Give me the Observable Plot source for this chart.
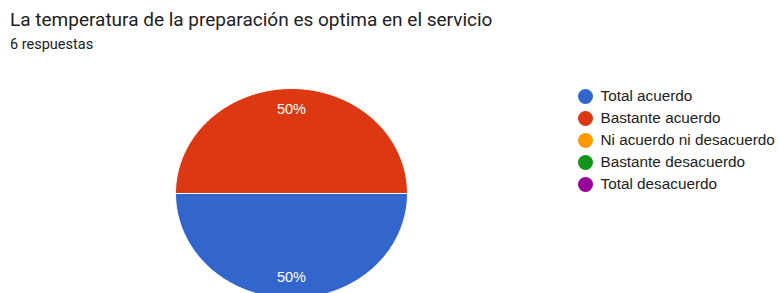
<!DOCTYPE html>
<html><head><meta charset="utf-8">
<script src="https://cdn.jsdelivr.net/npm/d3@7"></script>
<script src="https://cdn.jsdelivr.net/npm/@observablehq/plot@0.6"></script>
<style>
body{margin:0;width:779px;height:293px;overflow:hidden;background:#fff;position:relative;font-family:Roboto,"Liberation Sans",sans-serif;}
#title{position:absolute;left:10px;top:9px;font-size:19px;line-height:22px;color:#202124;white-space:nowrap;}
#sub{position:absolute;left:10px;top:36px;font-size:14.5px;line-height:17px;color:#202124;white-space:nowrap;}
#chart{position:absolute;left:0;top:0;}
#legend{position:absolute;left:575px;top:85px;}
</style></head>
<body>
<div id="chart"></div>
<div id="title">La temperatura de la preparación es optima en el servicio</div>
<div id="sub">6 respuestas</div>
<div id="legend"></div>
<script>
const categories = ["Total acuerdo","Bastante acuerdo","Ni acuerdo ni desacuerdo","Bastante desacuerdo","Total desacuerdo"];
const counts = [3, 3, 0, 0, 0];
const colors = ["#3366cc","#dc3912","#ff9900","#109618","#990099"];

const rows = categories.map((c,i)=>({cat:c, n:counts[i]}));
const total = d3.sum(counts);
const arcs = d3.pie().value(d=>d.n).sort(null).startAngle(Math.PI/2).endAngle(Math.PI/2+2*Math.PI)(rows).filter(a=>a.value>0);

// slice outlines in data space (unit circle), sampled along the arc
const pts = [];
arcs.forEach(a=>{
  const steps = 120;
  pts.push({cat:a.data.cat, x:0, y:0});
  for(let k=0;k<=steps;k++){
    const t = a.startAngle + (a.endAngle-a.startAngle)*k/steps;
    pts.push({cat:a.data.cat, x:Math.sin(t), y:Math.cos(t)});
  }
  pts.push({cat:a.data.cat, x:0, y:0});
});
const labels = arcs.map(a=>{
  const m=(a.startAngle+a.endAngle)/2, r=0.8;
  return {x:r*Math.sin(m), y:r*Math.cos(m), text:Math.round(a.value/total*100)+"%"};
});

const chart = Plot.plot({
  width:779, height:293, margin:0,
  x:{domain:[-1,1], range:[175,407], axis:null},
  y:{domain:[-1,1], range:[298,88], axis:null},
  color:{domain:categories, range:colors},
  style:{background:"transparent"},
  marks:[
    Plot.line(pts,{x:"x",y:"y",z:"cat",fill:"cat",stroke:"white",strokeWidth:1,curve:"linear"}),
    Plot.text(labels,{x:"x",y:"y",text:"text",fill:"white",fontSize:14.5,fontFamily:"'Liberation Sans',Arial,sans-serif"})
  ]
});
document.getElementById("chart").appendChild(chart);

const legend = Plot.plot({
  width:204, height:110, marginLeft:10, marginRight:0, marginTop:11, marginBottom:11,
  y:{type:"point", domain:categories, padding:0, axis:null},
  color:{domain:categories, range:colors},
  marks:[
    Plot.dot(categories,{y:d=>d, fill:d=>d, r:7.5, frameAnchor:"left"}),
    Plot.text(categories,{y:d=>d, text:d=>d, frameAnchor:"left", dx:15, textAnchor:"start", fill:"#222", fontSize:15.3, fontFamily:"'Liberation Sans',Arial,sans-serif"})
  ]
});
document.getElementById("legend").appendChild(legend);
</script>
</body></html>
